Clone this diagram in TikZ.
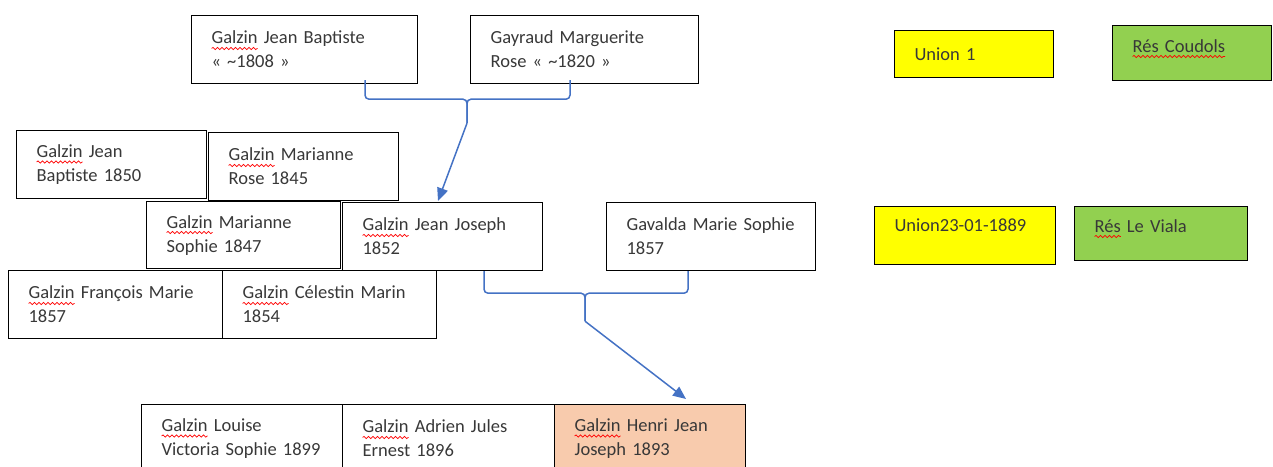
\documentclass[tikz,border=0pt]{standalone}
\usepackage{fontspec}
\setmainfont{Carlito}
\usetikzlibrary{arrows.meta,calc,decorations.pathmorphing}
\definecolor{cblue}{HTML}{4472C4}
\definecolor{peach}{HTML}{F8CBAD}
\definecolor{ylw}{HTML}{FFFF00}
\definecolor{grn}{HTML}{92D050}
\definecolor{txt}{HTML}{383838}
\newbox\spellbox
\newdimen\spellw
\newcommand\spell[1]{\setbox\spellbox\hbox{#1}\spellw=\wd\spellbox
  \rlap{\tikz[overlay,baseline=0pt,x=1pt,y=1pt]\draw[red,line width=0.7pt,decorate,
    decoration={snake,amplitude=1.1pt,segment length=4.5pt}] (0pt,-4.5pt) -- (\spellw,-4.5pt);}%
  \box\spellbox\relax}
\begin{document}
\begin{tikzpicture}[x=1pt,y=-1pt,
  box/.style={draw=black, line width=1.2pt, anchor=north west, inner xsep=20pt, inner ysep=0pt,
    align=left, font=\fontsize{18.5}{24}\selectfont, text=txt},
  conn/.style={draw=cblue, line width=1.5pt, rounded corners=4pt},
  arr/.style={draw=cblue, line width=1.5pt, -{Triangle[length=13pt,width=11pt]}}]
\useasboundingbox (0,0) rectangle (1273,466);

% parents
\node[box, minimum width=226pt, text width=186pt, minimum height=68pt] (A) at (191,15)
  {\mbox{\spell{Galzin} Jean Baptiste}\\« \textasciitilde1808 »};
\node[box, minimum width=228pt, text width=188pt, minimum height=68pt] (B) at (470,15)
  {\mbox{Gayraud Marguerite}\\Rose « \textasciitilde1820 »};

% siblings
\node[box, minimum width=190pt, text width=150pt, minimum height=68pt] (P1850) at (16,130)
  {\mbox{\spell{Galzin} Jean}\\Baptiste 1850};
\node[box, minimum width=190pt, text width=150pt, minimum height=68pt] (P1845) at (208,132)
  {\mbox{\spell{Galzin} Marianne}\\Rose 1845};
\node[box, minimum width=194pt, text width=154pt, minimum height=67pt] (P1847) at (146,201)
  {\mbox{\spell{Galzin} Marianne}\\Sophie 1847};
\node[box, minimum width=200pt, text width=160pt, minimum height=68pt] (JJ) at (342,202)
  {\mbox{\spell{Galzin} Jean Joseph}\\1852};
\node[box, minimum width=209pt, text width=169pt, minimum height=68pt] (GAV) at (606,202)
  {\mbox{Gavalda Marie Sophie}\\1857};
\node[box, minimum width=214pt, text width=174pt, minimum height=68pt] (FM) at (8,270)
  {\mbox{\spell{Galzin} François Marie}\\1857};
\node[box, minimum width=214pt, text width=174pt, minimum height=68pt] (CM) at (222,270)
  {\mbox{\spell{Galzin} Célestin Marin}\\1854};

% children
\node[box, minimum width=201pt, text width=161pt, minimum height=68pt] (LV) at (141,404)
  {\mbox{\spell{Galzin} Louise}\\\mbox{Victoria Sophie 1899}};
\node[box, minimum width=212pt, text width=172pt, minimum height=68pt] (AJ) at (342,404)
  {\mbox{\spell{Galzin} Adrien Jules}\\Ernest 1896};
\node[box, fill=peach, minimum width=191pt, text width=151pt, minimum height=68pt] (HJ) at (554,404)
  {\mbox{\spell{Galzin} Henri Jean}\\Joseph 1893};

% legend
\node[box, fill=ylw, minimum width=159pt, text width=119pt, minimum height=47pt] (U1) at (894,30)
  {Union 1};
\node[box, fill=grn, minimum width=159pt, text width=119pt, minimum height=55pt, text depth=15pt] (RC) at (1112,25)
  {\mbox{\spell{Rés Coudols}}};
\node[box, fill=ylw, minimum width=181pt, text width=141pt, minimum height=58pt, text depth=20pt] (U2) at (874,206)
  {Union23-01-1889};
\node[box, fill=grn, minimum width=173pt, text width=133pt, minimum height=54pt, text depth=16pt] (RV) at (1074,206)
  {\mbox{\spell{Rés} Le Viala}};

% union 1 brace and arrow
\coordinate (s1) at ($(A.south west)+(276,39)$);
\draw[conn] ($(A.south west)+(174,-4)$) -- ($(A.south west)+(174,15)$)
  -- ($(A.south west)+(276,15)$) -- (s1);
\draw[conn] ($(B.south west)+(100,-4)$) -- ($(B.south west)+(100,15)$)
  -- ($(A.south west)+(276,15)$) -- (s1);
\draw[arr] (s1) -- ($(JJ.north west)+(96,-1)$);

% union 2 brace and arrow
\coordinate (s2) at ($(JJ.south west)+(243,50)$);
\draw[conn] ($(JJ.south west)+(142,0)$) -- ($(JJ.south west)+(142,22)$)
  -- ($(JJ.south west)+(243,22)$) -- (s2);
\draw[conn] ($(GAV.south west)+(82,0)$) -- ($(GAV.south west)+(82,22)$)
  -- ($(JJ.south west)+(243,22)$) -- (s2);
\draw[arr] (s2) -- ($(HJ.north west)+(132,-5)$);
\end{tikzpicture}
\end{document}
